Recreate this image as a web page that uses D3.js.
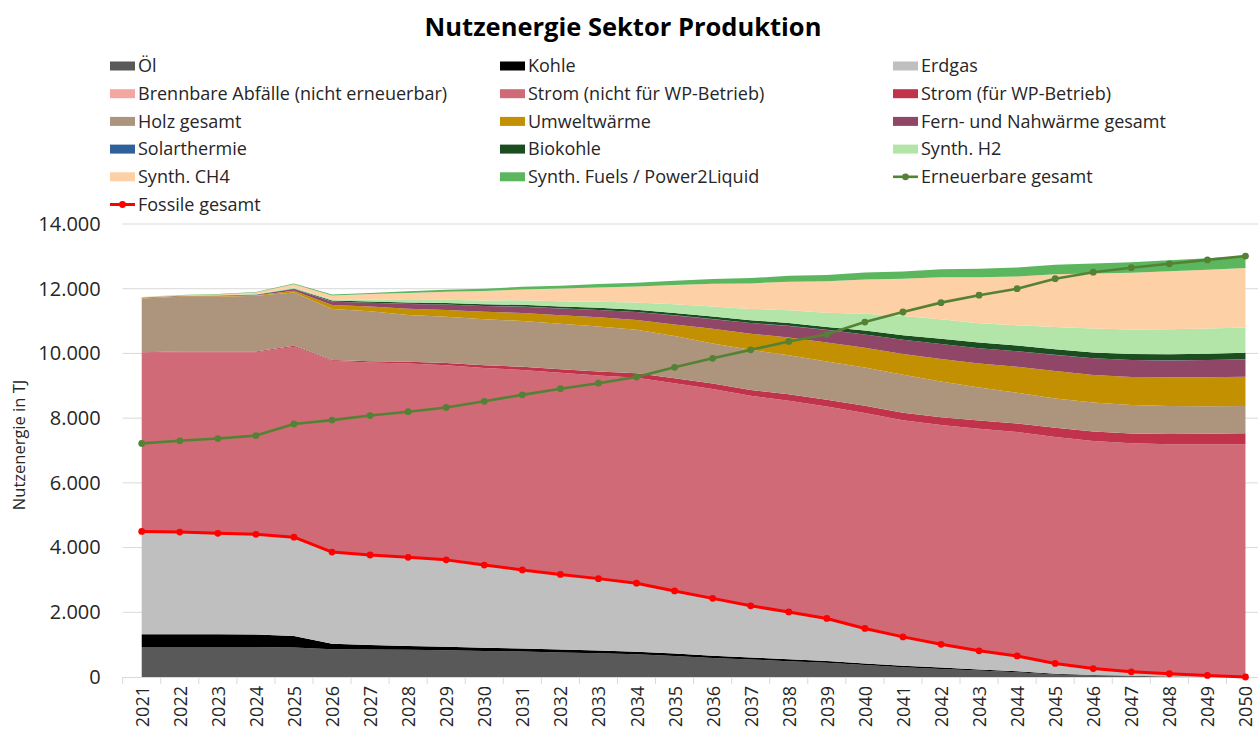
<!DOCTYPE html>
<html>
<head>
<meta charset="utf-8">
<script src="https://cdn.jsdelivr.net/npm/d3@7"></script>
<style>
  body { margin: 0; background: #fff; }
  svg { display: block; font-family: "Open Sans", sans-serif; }
</style>
</head>
<body>
<div id="chart"></div>
<script>
// categories
const years = ["2021", "2022", "2023", "2024", "2025", "2026", "2027", "2028", "2029", "2030",
  "2031", "2032", "2033", "2034", "2035", "2036", "2037", "2038", "2039", "2040",
  "2041", "2042", "2043", "2044", "2045", "2046", "2047", "2048", "2049", "2050"];

// stacked series (TJ), bottom to top
const oel = [930, 930, 930, 925, 915, 860, 850, 840, 825, 805, 785, 760, 735, 700, 650, 590, 540, 490, 440, 370, 300, 250, 200, 150, 80, 50, 25, 10, 5, 0];
const kohle = [390, 390, 390, 390, 355, 165, 140, 120, 110, 100, 95, 90, 85, 80, 75, 70, 65, 60, 55, 50, 45, 40, 35, 30, 20, 15, 10, 5, 0, 0];
const erdgas = [3180, 3160, 3120, 3095, 3050, 2835, 2780, 2740, 2685, 2555, 2430, 2320, 2220, 2120, 1935, 1770, 1595, 1460, 1315, 1080, 895, 720, 575, 470, 320, 195, 125, 85, 45, 0];
const abfaelle = [20, 20, 20, 20, 20, 20, 20, 20, 20, 20, 20, 20, 20, 20, 20, 20, 20, 20, 20, 20, 15, 15, 10, 10, 10, 5, 5, 5, 0, 0];
const strom = [5500, 5540, 5580, 5610, 5870, 5890, 5930, 5965, 5995, 6070, 6160, 6210, 6260, 6330, 6400, 6450, 6470, 6510, 6530, 6640, 6680, 6760, 6850, 6910, 6990, 7030, 7060, 7090, 7140, 7190];
const stromWP = [20, 20, 20, 20, 25, 30, 40, 55, 70, 85, 100, 110, 125, 140, 155, 170, 180, 195, 205, 220, 235, 245, 255, 265, 280, 290, 300, 315, 325, 340];
const holz = [1660, 1690, 1695, 1720, 1650, 1570, 1540, 1450, 1430, 1420, 1415, 1410, 1390, 1340, 1300, 1240, 1240, 1205, 1185, 1185, 1170, 1100, 1020, 950, 910, 895, 880, 865, 855, 845];
const umwelt = [15, 15, 15, 20, 50, 130, 150, 190, 210, 230, 245, 260, 280, 300, 360, 450, 500, 550, 585, 610, 640, 700, 745, 800, 845, 855, 870, 885, 895, 905];
const fern = [10, 10, 12, 15, 60, 100, 115, 150, 165, 180, 195, 210, 225, 250, 280, 300, 330, 360, 390, 410, 440, 460, 470, 480, 500, 515, 520, 525, 530, 535];
const solar = [3, 3, 3, 3, 3, 3, 3, 3, 3, 3, 3, 3, 3, 3, 3, 3, 3, 3, 3, 3, 3, 3, 3, 3, 3, 3, 3, 3, 3, 3];
const biokohle = [3, 3, 3, 5, 10, 30, 35, 40, 45, 50, 55, 60, 65, 70, 72, 80, 82, 85, 90, 120, 135, 160, 175, 180, 170, 175, 185, 190, 195, 205];
const h2 = [0, 0, 5, 10, 30, 40, 60, 80, 100, 120, 140, 160, 190, 220, 270, 310, 350, 400, 440, 520, 600, 600, 595, 620, 690, 740, 760, 770, 775, 780];
const ch4 = [10, 20, 30, 50, 100, 120, 170, 215, 250, 290, 335, 390, 440, 495, 595, 700, 790, 880, 970, 1060, 1150, 1300, 1420, 1510, 1630, 1700, 1750, 1790, 1815, 1840];
const fuels = [0, 5, 10, 15, 20, 25, 35, 50, 60, 70, 80, 90, 105, 120, 135, 150, 165, 180, 195, 210, 225, 245, 265, 280, 295, 310, 325, 340, 355, 370];

// line series (TJ)
const erneuerbareGesamt = [7220, 7300, 7370, 7460, 7820, 7940, 8080, 8200, 8330, 8520, 8720, 8910, 9080, 9270, 9570, 9850, 10110, 10370, 10590, 10970, 11280, 11570, 11800, 12000, 12310, 12510, 12650, 12770, 12890, 13010];
const fossileGesamt = [4500, 4480, 4440, 4410, 4320, 3860, 3770, 3700, 3620, 3460, 3310, 3170, 3040, 2900, 2660, 2430, 2200, 2010, 1810, 1500, 1240, 1010, 810, 650, 420, 260, 160, 100, 50, 0];

const yTicks = [0, 2000, 4000, 6000, 8000, 10000, 12000, 14000];

const areaSeries = [
  {key: "oel", label: "Öl", values: oel, color: "#595959"},
  {key: "kohle", label: "Kohle", values: kohle, color: "#000000"},
  {key: "erdgas", label: "Erdgas", values: erdgas, color: "#bfbfbf"},
  {key: "abfaelle", label: "Brennbare Abfälle (nicht erneuerbar)", values: abfaelle, color: "#f4a7a0"},
  {key: "strom", label: "Strom (nicht für WP-Betrieb)", values: strom, color: "#d06a77"},
  {key: "stromWP", label: "Strom (für WP-Betrieb)", values: stromWP, color: "#c0334a"},
  {key: "holz", label: "Holz gesamt", values: holz, color: "#ad957d"},
  {key: "umwelt", label: "Umweltwärme", values: umwelt, color: "#c29000"},
  {key: "fern", label: "Fern- und Nahwärme gesamt", values: fern, color: "#904767"},
  {key: "solar", label: "Solarthermie", values: solar, color: "#2e6099"},
  {key: "biokohle", label: "Biokohle", values: biokohle, color: "#1c4d20"},
  {key: "h2", label: "Synth. H2", values: h2, color: "#b4e5a8"},
  {key: "ch4", label: "Synth. CH4", values: ch4, color: "#fdd0a6"},
  {key: "fuels", label: "Synth. Fuels / Power2Liquid", values: fuels, color: "#5bb65e"}
];
const lineSeries = [
  {key: "erneuerbare", label: "Erneuerbare gesamt", values: erneuerbareGesamt, color: "#548235", width: 2.6},
  {key: "fossile", label: "Fossile gesamt", values: fossileGesamt, color: "#ff0000", width: 3}
];

const width = 1258, height = 738;
const plot = {left: 122.7, right: 1264.5, top: 224, bottom: 677};
const textColor = "#262626";
const gridColor = "#d9d9d9";

const table = years.map((year, i) => {
  const row = {year};
  areaSeries.forEach(s => row[s.key] = s.values[i]);
  return row;
});

const svg = d3.select("#chart").append("svg")
  .attr("width", width)
  .attr("height", height)
  .attr("viewBox", [0, 0, width, height]);

const x = d3.scaleBand().domain(years).range([plot.left, plot.right]);
const cx = d => x(d) + x.bandwidth() / 2;
const y = d3.scaleLinear().domain([0, 14000]).range([plot.bottom, plot.top]);

const de = d3.formatLocale({decimal: ",", thousands: ".", grouping: [3], currency: ["", " €"]});

// gridlines
svg.append("g")
  .selectAll("line")
  .data(yTicks.filter(d => d > 0))
  .join("line")
  .attr("x1", plot.left).attr("x2", plot.right)
  .attr("y1", d => y(d)).attr("y2", d => y(d))
  .attr("stroke", gridColor)
  .attr("stroke-width", 1);

// stacked areas
const stacked = d3.stack().keys(areaSeries.map(s => s.key))(table);
const area = d3.area()
  .x(d => cx(d.data.year))
  .y0(d => y(d[0]))
  .y1(d => y(d[1]));

svg.append("g")
  .selectAll("path")
  .data(stacked)
  .join("path")
  .attr("fill", (d, i) => areaSeries[i].color)
  .attr("d", area);

// x axis line + tick marks between categories
svg.append("line")
  .attr("x1", plot.left).attr("x2", plot.right)
  .attr("y1", plot.bottom + 0.5).attr("y2", plot.bottom + 0.5)
  .attr("stroke", gridColor);

svg.append("g")
  .selectAll("line")
  .data(years.concat(["end"]))
  .join("line")
  .attr("x1", (d, i) => plot.left + i * x.bandwidth())
  .attr("x2", (d, i) => plot.left + i * x.bandwidth())
  .attr("y1", plot.bottom)
  .attr("y2", plot.bottom + 7)
  .attr("stroke", gridColor);

// x labels
svg.append("g")
  .attr("transform", `translate(0,${plot.bottom})`)
  .call(d3.axisBottom(x).tickSize(0).tickPadding(0))
  .call(g => g.select(".domain").remove())
  .call(g => g.selectAll("text")
    .attr("font-family", "Open Sans, sans-serif")
    .attr("font-size", 18)
    .attr("fill", textColor)
    .attr("text-anchor", "end")
    .attr("dy", null)
    .attr("y", null)
    .attr("transform", "translate(0,9) rotate(-90)")
    .attr("dominant-baseline", "central"));

// y axis labels
svg.append("g")
  .attr("transform", `translate(${plot.left},0)`)
  .call(d3.axisLeft(y).tickValues(yTicks).tickSize(0).tickPadding(22).tickFormat(de.format(",")))
  .call(g => g.select(".domain").remove())
  .call(g => g.selectAll("text")
    .attr("font-family", "Open Sans, sans-serif")
    .attr("font-size", 20)
    .attr("fill", textColor));

// y axis title
svg.append("text")
  .attr("transform", `translate(25,445) rotate(-90)`)
  .attr("text-anchor", "middle")
  .attr("font-size", 16.5)
  .attr("fill", textColor)
  .text("Nutzenergie in TJ");

// lines with markers
const line = d3.line()
  .x((d, i) => cx(years[i]))
  .y(d => y(d));

lineSeries.forEach(s => {
  const g = svg.append("g");
  g.append("path")
    .attr("fill", "none")
    .attr("stroke", s.color)
    .attr("stroke-width", s.width)
    .attr("stroke-linejoin", "round")
    .attr("d", line(s.values));
  g.selectAll("circle")
    .data(s.values)
    .join("circle")
    .attr("cx", (d, i) => cx(years[i]))
    .attr("cy", d => y(d))
    .attr("r", 3.4)
    .attr("fill", s.color);
});

// title
svg.append("text")
  .attr("x", 623)
  .attr("y", 36)
  .attr("text-anchor", "middle")
  .attr("font-size", 25.5)
  .attr("font-weight", "bold")
  .attr("fill", "#000")
  .text("Nutzenergie Sektor Produktion");

// legend
const legendItems = areaSeries.map(s => ({...s, type: "area"}))
  .concat(lineSeries.map(s => ({...s, type: "line"})));
// Excel orders the lines: Erneuerbare after Synth. Fuels, Fossile last
const colX = [110, 500, 893];
const rowY0 = 66, rowStep = 27.7;

const legend = svg.append("g")
  .selectAll("g")
  .data(legendItems)
  .join("g")
  .attr("transform", (d, i) => `translate(${colX[i % 3]},${rowY0 + Math.floor(i / 3) * rowStep})`);

legend.filter(d => d.type === "area")
  .append("rect")
  .attr("x", 0).attr("y", -4.5)
  .attr("width", 25).attr("height", 9)
  .attr("fill", d => d.color);

legend.filter(d => d.type === "line")
  .append("line")
  .attr("x1", 0).attr("x2", 25)
  .attr("stroke", d => d.color)
  .attr("stroke-width", d => d.width);

legend.filter(d => d.type === "line")
  .append("circle")
  .attr("cx", 12.5).attr("r", 3.4)
  .attr("fill", d => d.color);

legend.append("text")
  .attr("x", 28)
  .attr("dy", "0.35em")
  .attr("font-size", 18)
  .attr("fill", textColor)
  .text(d => d.label);
</script>
</body>
</html>
